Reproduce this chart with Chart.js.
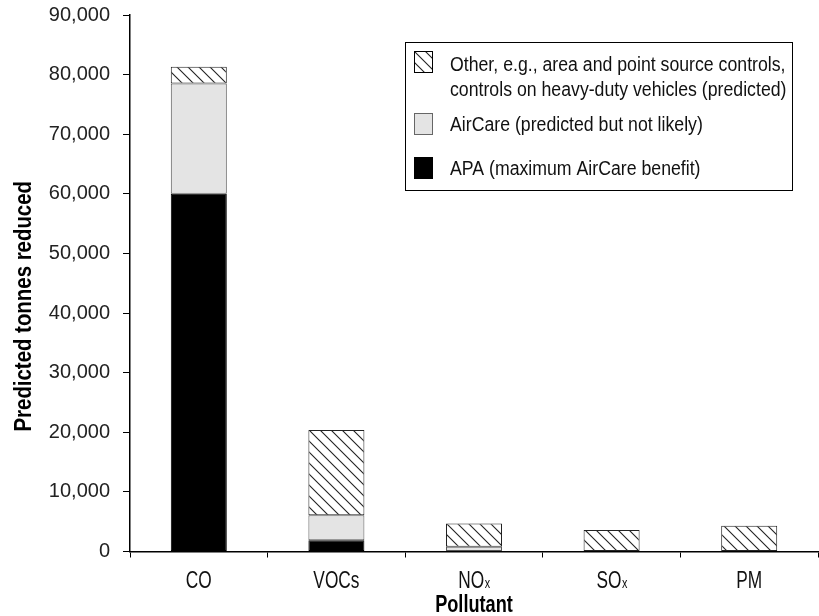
<!DOCTYPE html>
<html>
<head>
<meta charset="utf-8">
<title>Predicted tonnes reduced by pollutant</title>
<script src="https://cdn.jsdelivr.net/npm/chart.js@4.4.0/dist/chart.umd.min.js"></script>
<style>
  html, body { margin: 0; padding: 0; background: #fff; }
</style>
</head>
<body>
<canvas id="myChart" width="819" height="616"></canvas>
<script>
// pollutant categories and the three stacked series (tonnes)
const pollutants = ['CO', 'VOCs', 'NOₓ', 'SOₓ', 'PM'];
const apaValues = [60000, 1900, null, null, null];
const airCareValues = [18500, 4200, 800, null, null];
const otherValues = [2800, 14300, 3900, 3600, 4300];
const yTickValues = [0, 10000, 20000, 30000, 40000, 50000, 60000, 70000, 80000, 90000];

const legendLines = [
  ['Other, e.g., area and point source controls,', 'controls on heavy-duty vehicles (predicted)'],
  ['AirCare (predicted but not likely)'],
  ['APA (maximum AirCare benefit)']
];
const xTitle = 'Pollutant';
const yTitle = 'Predicted tonnes reduced';

const SANS = '"Liberation Sans", Arial, sans-serif';

const ctx = document.getElementById('myChart').getContext('2d');

// diagonal "\" hatch used for the "Other" series
const makeHatch = () => {
  const s = 11;
  const c = document.createElement('canvas');
  c.width = s; c.height = s;
  const g = c.getContext('2d');
  g.fillStyle = '#fff';
  g.fillRect(0, 0, s, s);
  g.strokeStyle = '#222';
  g.lineWidth = 1.1;
  g.beginPath();
  g.moveTo(0, 0); g.lineTo(s, s);
  g.moveTo(-2, s - 2); g.lineTo(2, s + 2);
  g.moveTo(s - 2, -2); g.lineTo(s + 2, 2);
  g.stroke();
  return ctx.createPattern(c, 'repeat');
};
const hatch = makeHatch();

const fills = [hatch, '#e4e4e4', '#000'];

// squeezed text, stands in for the narrow face the labels use
const narrowText = (c, text, x, y, size, weight, sx, align) => {
  c.save();
  c.font = `${weight} ${size}px ${SANS}`;
  c.translate(x, y);
  c.scale(sx, 1);
  c.textAlign = align || 'left';
  c.fillText(text, 0, 0);
  c.restore();
};

// category names, subscripted x drawn smaller
const axisText = {
  id: 'axisText',
  afterDraw(chart) {
    const c = chart.ctx;
    const xs = chart.scales.x;
    const area = chart.chartArea;
    c.save();
    c.fillStyle = '#111';
    c.textBaseline = 'alphabetic';
    pollutants.forEach((name, i) => {
      const cx = xs.getPixelForValue(i);
      const sub = name.endsWith('ₓ');
      const main = sub ? name.slice(0, -1) : name;
      const sx = 0.72;
      c.font = `24px ${SANS}`;
      const wMain = c.measureText(main).width * sx;
      c.font = `15px ${SANS}`;
      const wSub = sub ? c.measureText('x').width * sx : 0;
      const left = cx - (wMain + wSub) / 2;
      narrowText(c, main, left, 588, 24, 'normal', sx);
      if (sub) narrowText(c, 'x', left + wMain + 0.5, 588, 15, 'normal', sx);
    });

    c.fillStyle = '#000';
    narrowText(c, xTitle, (area.left + area.right) / 2, 612, 23, 'bold', 0.79, 'center');

    c.save();
    c.translate(31, (area.top + area.bottom) / 2 + 23);
    c.rotate(-Math.PI / 2);
    narrowText(c, yTitle, 0, 0, 24, 'bold', 0.85, 'center');
    c.restore();
    c.restore();
  }
};

// boxed legend in the upper right of the plot
const boxLegend = {
  id: 'boxLegend',
  afterDraw(chart) {
    const c = chart.ctx;
    const bx = 405, by = 42, bw = 387, bh = 148;
    c.save();
    c.fillStyle = '#fff';
    c.fillRect(bx, by, bw, bh);
    c.strokeStyle = '#000';
    c.lineWidth = 1;
    c.strokeRect(bx + 0.5, by + 0.5, bw, bh);

    const swatchY = [51, 113, 157];
    const baseY = [71, 96, 131, 175];
    let line = 0;
    legendLines.forEach((lines, i) => {
      c.fillStyle = fills[i];
      c.fillRect(414, swatchY[i], 18, 21);
      c.strokeStyle = i === 1 ? '#666' : '#000';
      c.strokeRect(414.5, swatchY[i] + 0.5, 18, 21);
      c.fillStyle = '#111';
      c.textBaseline = 'alphabetic';
      lines.forEach(t => {
        narrowText(c, t, 450, baseY[line], 20, 'normal', 0.885);
        line++;
      });
    });
    c.restore();
  }
};

new Chart(ctx, {
  type: 'bar',
  data: {
    labels: pollutants,
    datasets: [
      {
        label: 'APA (maximum AirCare benefit)',
        data: apaValues,
        backgroundColor: '#000',
        borderColor: '#000',
        borderWidth: 1,
        borderSkipped: false
      },
      {
        label: 'AirCare (predicted but not likely)',
        data: airCareValues,
        backgroundColor: '#e4e4e4',
        borderColor: '#555',
        borderWidth: 1,
        borderSkipped: false
      },
      {
        label: 'Other, e.g., area and point source controls, controls on heavy-duty vehicles (predicted)',
        data: otherValues,
        backgroundColor: hatch,
        borderColor: '#222',
        borderWidth: 1,
        borderSkipped: false
      }
    ]
  },
  options: {
    responsive: false,
    animation: false,
    devicePixelRatio: 1,
    barPercentage: 0.407,
    categoryPercentage: 1,
    layout: { padding: { top: 0, right: 1, left: 0, bottom: 0 } },
    scales: {
      x: {
        stacked: true,
        border: { color: '#000', width: 1.5 },
        grid: { offset: true, drawOnChartArea: false, color: '#000', tickLength: 6 },
        ticks: { display: false },
        afterFit: scale => { scale.height = 64.5; }
      },
      y: {
        stacked: true,
        min: 0,
        max: 90000,
        afterBuildTicks: scale => {
          scale.ticks = yTickValues.map(v => ({ value: v }));
        },
        border: { color: '#000', width: 1.5 },
        grid: { drawOnChartArea: false, color: '#000', tickLength: 7 },
        ticks: {
          color: '#222',
          font: { family: SANS, size: 20 },
          padding: 13,
          callback: v => v.toLocaleString('en-US')
        },
        afterFit: scale => {
          scale.width = 130;
          scale.paddingTop = 15;
          scale.paddingBottom = 0;
        }
      }
    },
    plugins: {
      legend: { display: false },
      tooltip: { enabled: false }
    }
  },
  plugins: [boxLegend, axisText]
});
</script>
</body>
</html>
